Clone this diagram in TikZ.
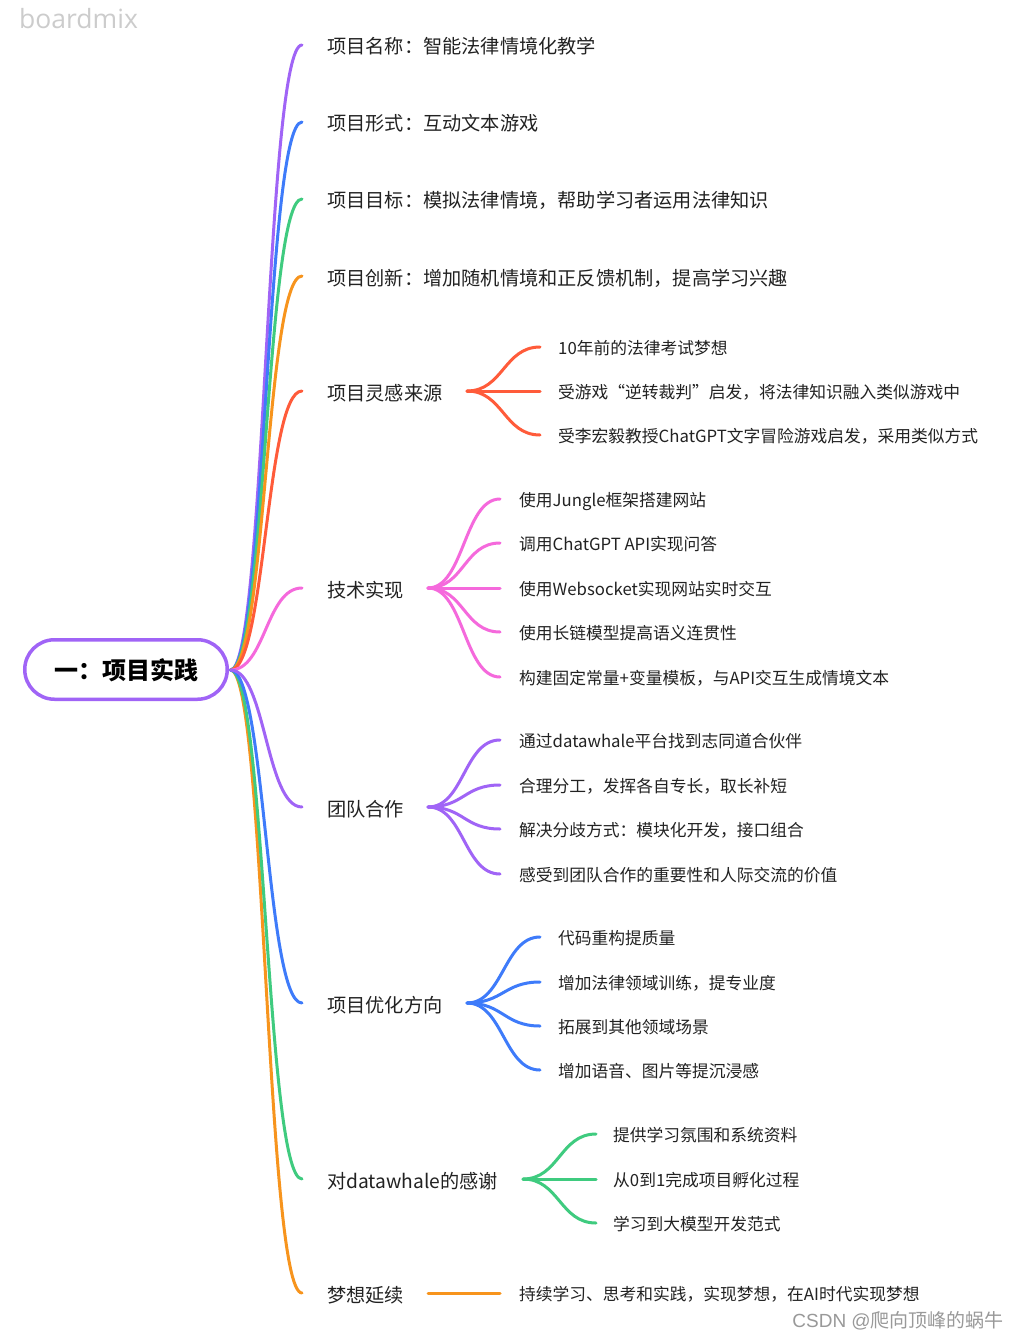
\documentclass[tikz,border=0pt]{standalone}
\usepackage{fontspec}
\setmainfont{Noto Sans CJK SC}
\newfontfamily\wmfont{Open Sans}
\newfontfamily\csdnfont{Liberation Sans}
\newfontfamily\cjkfont{Noto Sans CJK SC}
\definecolor{cpurple}{HTML}{A064F6}
\definecolor{cblue}{HTML}{3E7BFA}
\definecolor{cgreen}{HTML}{3FCB7F}
\definecolor{corange}{HTML}{F7941D}
\definecolor{cred}{HTML}{FF5B3A}
\definecolor{cpink}{HTML}{F569DC}
\definecolor{txt}{HTML}{222222}
\tikzset{
  lvone/.style={anchor=west, inner sep=0pt, font=\fontsize{19.2}{22}\selectfont, text=txt, text height=21pt, text depth=3pt},
  lvtwo/.style={anchor=west, inner sep=0pt, font=\fontsize{16.75}{20}\selectfont, text=txt, text height=17pt, text depth=2.5pt},
  link/.style={line width=3pt, line cap=round},
  rootbox/.style={draw=cpurple, line width=3.5pt, fill=white, rounded corners=29.75pt, minimum width=202.5pt, minimum height=59.5pt, inner sep=0pt, text height=22pt, text depth=2pt, font=\fontsize{24}{28}\selectfont\bfseries, text=black},
}
\begin{document}
\begin{tikzpicture}[x=1pt,y=-1pt]
\fill[white] (0,0) rectangle (1021,1340);
\useasboundingbox (0,0) rectangle (1021,1340);

% watermarks
\node[anchor=west, inner sep=0pt, font=\wmfont\fontsize{26.5}{30}\selectfont, text=black!20] (wm) at (19,19) {boardmix};
\node[anchor=east, inner sep=0pt, font=\fontsize{19}{22}\selectfont, text=black!40] (csdn) at (1004,1321) {{\csdnfont CSDN @}{\cjkfont 爬向顶峰的蜗牛}};

% root
\node[rootbox] (root) at (126,669.5) {一：项目实践};
\coordinate (R) at (230.5,670);

% level one
\node[lvone] (n1) at (327,45) {项目名称：智能法律情境化教学};
\node[lvone] (n2) at (327,122) {项目形式：互动文本游戏};
\node[lvone] (n3) at (327,199) {项目目标：模拟法律情境，帮助学习者运用法律知识};
\node[lvone] (n4) at (327,276) {项目创新：增加随机情境和正反馈机制，提高学习兴趣};
\node[lvone] (n5) at (327,391) {项目灵感来源};
\node[lvone] (n6) at (327,588) {技术实现};
\node[lvone] (n7) at (327,807) {团队合作};
\node[lvone] (n8) at (327,1003) {项目优化方向};
\node[lvone] (n9) at (327,1179) {对datawhale的感谢};
\node[lvone] (n10) at (327,1293) {梦想延续};

\draw[link,cpurple] (R) .. controls +(35,0) and +(-36,0) .. ([xshift=-25pt]n1.west);
\draw[link,cblue]   (R) .. controls +(35,0) and +(-36,0) .. ([xshift=-25pt]n2.west);
\draw[link,cgreen]  (R) .. controls +(35,0) and +(-36,0) .. ([xshift=-25pt]n3.west);
\draw[link,corange] (R) .. controls +(35,0) and +(-36,0) .. ([xshift=-25pt]n4.west);
\draw[link,cred]    (R) .. controls +(35,0) and +(-36,0) .. ([xshift=-25pt]n5.west);
\draw[link,cpink]   (R) .. controls +(35,0) and +(-36,0) .. ([xshift=-25pt]n6.west);
\draw[link,corange] (R) .. controls +(35,0) and +(-36,0) .. ([xshift=-25pt]n10.west);
\draw[link,cgreen]  (R) .. controls +(35,0) and +(-36,0) .. ([xshift=-25pt]n9.west);
\draw[link,cblue]   (R) .. controls +(35,0) and +(-36,0) .. ([xshift=-25pt]n8.west);
\draw[link,cpurple] (R) .. controls +(35,0) and +(-36,0) .. ([xshift=-25pt]n7.west);

% 项目灵感来源
\coordinate (f5) at (467,391);
\node[lvtwo] (c51) at (558,347) {10年前的法律考试梦想};
\node[lvtwo] (c52) at (558,391) {受游戏“逆转裁判”启发，将法律知识融入类似游戏中};
\node[lvtwo] (c53) at (558,435) {受李宏毅教授ChatGPT文字冒险游戏启发，采用类似方式};
\foreach \c in {c51,c52,c53}
  \draw[link,cred] (f5) .. controls +(36,0) and +(-36,0) .. ([xshift=-18pt]\c.west);

% 技术实现
\coordinate (f6) at (428,588);
\node[lvtwo] (c61) at (519,499) {使用Jungle框架搭建网站};
\node[lvtwo] (c62) at (519,543) {调用ChatGPT API实现问答};
\node[lvtwo] (c63) at (519,588) {使用Websocket实现网站实时交互};
\node[lvtwo] (c64) at (519,632) {使用长链模型提高语义连贯性};
\node[lvtwo] (c65) at (519,677) {构建固定常量+变量模板，与API交互生成情境文本};
\foreach \c in {c61,c62,c63,c64,c65}
  \draw[link,cpink] (f6) .. controls +(36,0) and +(-36,0) .. ([xshift=-19pt]\c.west);

% 团队合作
\coordinate (f7) at (428,807);
\node[lvtwo] (c71) at (519,740) {通过datawhale平台找到志同道合伙伴};
\node[lvtwo] (c72) at (519,785) {合理分工，发挥各自专长，取长补短};
\node[lvtwo] (c73) at (519,829) {解决分歧方式：模块化开发，接口组合};
\node[lvtwo] (c74) at (519,874) {感受到团队合作的重要性和人际交流的价值};
\foreach \c in {c71,c72,c73,c74}
  \draw[link,cpurple] (f7) .. controls +(36,0) and +(-36,0) .. ([xshift=-19pt]\c.west);

% 项目优化方向
\coordinate (f8) at (467,1003);
\node[lvtwo] (c81) at (558,937) {代码重构提质量};
\node[lvtwo] (c82) at (558,982) {增加法律领域训练，提专业度};
\node[lvtwo] (c83) at (558,1026) {拓展到其他领域场景};
\node[lvtwo] (c84) at (558,1070) {增加语音、图片等提沉浸感};
\foreach \c in {c81,c82,c83,c84}
  \draw[link,cblue] (f8) .. controls +(36,0) and +(-36,0) .. ([xshift=-18pt]\c.west);

% 对datawhale的感谢
\coordinate (f9) at (523,1179);
\node[lvtwo] (c91) at (613,1134) {提供学习氛围和系统资料};
\node[lvtwo] (c92) at (613,1179) {从0到1完成项目孵化过程};
\node[lvtwo] (c93) at (613,1223) {学习到大模型开发范式};
\foreach \c in {c91,c92,c93}
  \draw[link,cgreen] (f9) .. controls +(36,0) and +(-36,0) .. ([xshift=-17pt]\c.west);

% 梦想延续
\coordinate (f10) at (428,1293);
\node[lvtwo] (c101) at (519,1293) {持续学习、思考和实践，实现梦想，在AI时代实现梦想};
\draw[link,corange] (f10) -- ([xshift=-19pt]c101.west);
\end{tikzpicture}
\end{document}
